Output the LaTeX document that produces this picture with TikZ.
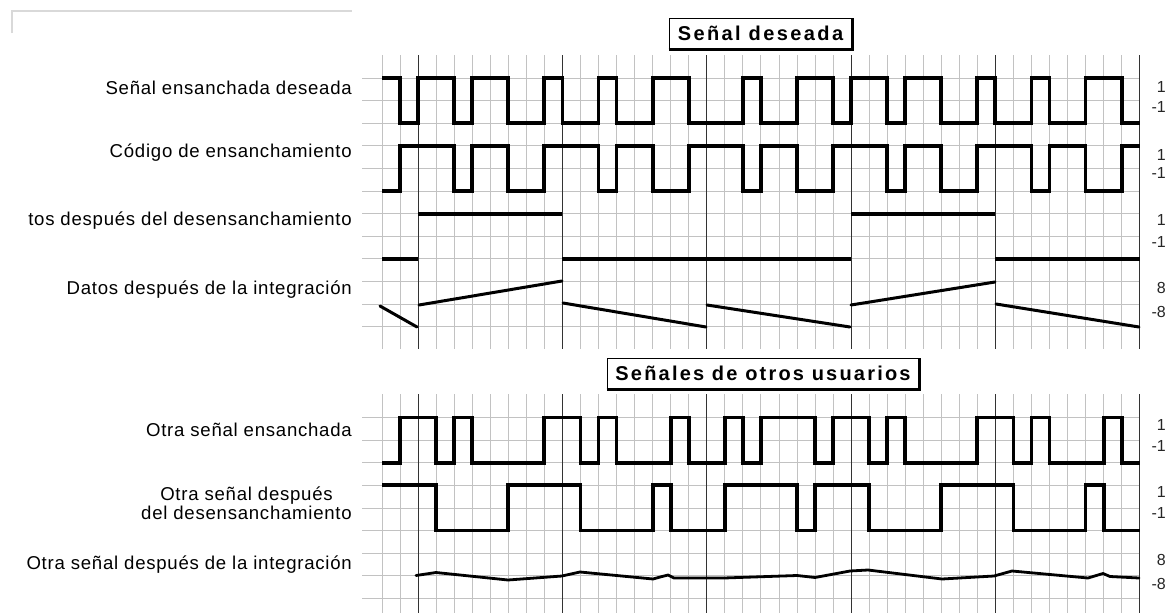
\documentclass[tikz,border=0pt]{standalone}
\usepackage{fontspec}
\setmainfont{Liberation Sans}
\newfontfamily\lblfont[LetterSpace=4]{Liberation Sans}
\newfontfamily\ttlfont[LetterSpace=12]{Liberation Sans}
\newfontfamily\ttlfontb[LetterSpace=11]{Liberation Sans}
\begin{document}
\begin{tikzpicture}[x=1pt,y=-1pt,
  minorgrid/.style={draw=black!24, line width=0.7pt},
  majorgrid/.style={draw=black!80, line width=1.1pt},
  sig/.style={draw=black, line width=3.8pt, line join=miter, line cap=butt},
  ramp/.style={draw=black, line width=3pt, line cap=round},
  lbl/.style={anchor=east, inner sep=0pt, font=\lblfont\fontsize{18.6}{22}\selectfont},
  val/.style={anchor=east, inner sep=0pt, text=black!85, font=\fontsize{16}{18}\selectfont},
  ttlbox/.style={draw=black, line width=0.9pt, inner sep=0pt, minimum height=31pt}]
\useasboundingbox (0,0) rectangle (1175,613);
\fill[white] (0,0) rectangle (1175,613);

\def\xo{382}
\def\cw{18.04}

% faint frame remnant in the upper left corner
\draw[black!15, line width=1.2pt] (12,33) -- (12,11) -- (352,11);

% ---------- grids ----------
% upper panel
\foreach \i in {0,...,42}{
  \draw[minorgrid] ({\xo+\cw*\i},55) -- ({\xo+\cw*\i},349);
}
\foreach \k in {1,...,12}{
  \draw[minorgrid] (362,{55.4+22.6*\k}) -- (1140,{55.4+22.6*\k});
}
% lower panel
\foreach \i in {0,...,42}{
  \draw[minorgrid] ({\xo+\cw*\i},394) -- ({\xo+\cw*\i},613);
}
\foreach \k in {1,...,9}{
  \draw[minorgrid] (362,{394.9+22.6*\k}) -- (1140,{394.9+22.6*\k});
}
% bit boundaries
\foreach \j in {0,...,5}{
  \draw[majorgrid] ({\xo+\cw*(2+8*\j)},55) -- ({\xo+\cw*(2+8*\j)},349);
  \draw[majorgrid] ({\xo+\cw*(2+8*\j)},394) -- ({\xo+\cw*(2+8*\j)},613);
}

% ---------- chip waveforms ----------
% #1 high level, #2 low level, #3 first level, #4 chip list (1 = high)
\newcommand\chipwave[4]{%
  \draw[sig] (\xo,{#3}) \foreach \v [count=\i from 0] in {#4} {
    -- ({\xo+\cw*\i},{#2+(#1-#2)*\v}) -- ({\xo+\cw*(\i+1)},{#2+(#1-#2)*\v}) };
}

% desired spread signal
\chipwave{78}{123}{78}{1,0,1,1,0,1,1,0,0,1,0,0,1,0,0,1,1,0,0,0,1,0,0,1,1,0,1,1,0,1,1,0,0,1,0,0,1,0,0,1,1,0}
% spreading code
\chipwave{145.8}{191}{191}{0,1,1,1,0,1,1,0,0,1,1,1,0,1,1,0,0,1,1,1,0,1,1,0,0,1,1,1,0,1,1,0,0,1,1,1,0,1,1,0,0,1}

% despread data
\draw[sig] (\xo,258.8) -- ({\xo+\cw*2},258.8);
\draw[sig] ({\xo+\cw*2},213.6) -- ({\xo+\cw*10},213.6);
\draw[sig] ({\xo+\cw*10},258.8) -- ({\xo+\cw*26},258.8);
\draw[sig] ({\xo+\cw*26},213.6) -- ({\xo+\cw*34},213.6);
\draw[sig] ({\xo+\cw*34},258.8) -- ({\xo+\cw*42},258.8);

% integrator output, reset every bit
\draw[ramp] (380,306) -- (417,327);
\draw[ramp] (419,305) -- (562,281);
\draw[ramp] (563,303) -- (706,327);
\draw[ramp] (707,305) -- (850,327);
\draw[ramp] (851,305) -- (995,282);
\draw[ramp] (996,304) -- (1139,327);

% other user's spread signal
\chipwave{417.5}{462.7}{462.7}{0,1,1,0,1,0,0,0,0,1,1,0,1,0,0,0,1,0,0,1,0,1,1,1,0,1,1,0,1,0,0,0,0,1,1,0,1,0,0,0,1,0}
% other user's signal after despreading
\chipwave{485.3}{530.5}{485.3}{1,1,1,0,0,0,0,1,1,1,1,0,0,0,0,1,0,0,0,1,1,1,1,0,1,1,1,0,0,0,0,1,1,1,1,0,0,0,0,1,0,0}
% other user's signal after integration
\draw[draw=black, line width=2.8pt, line join=round, line cap=round]
  (416,575.5) -- (436,572.5) -- (508,580) -- (562,576) -- (580,572) -- (653,579)
  -- (662,576.5) -- (668,575) -- (674,578) -- (706,578) -- (724,578) -- (797,575.5)
  -- (815,577.5) -- (850,571) -- (868,570) -- (942,579) -- (994,576) -- (1012,571)
  -- (1088,578) -- (1103,573.5) -- (1110,576.5) -- (1139,578);

% ---------- titles ----------
\node[ttlbox, minimum width=183pt] (t1) at (760.5,33.5)
  {\ttlfont\bfseries\fontsize{20}{22}\selectfont Señal deseada};
\draw[black, line width=2.2pt] (t1.south west) -- (t1.south east) -- (t1.north east);
\node[ttlbox, minimum width=312pt] (t2) at (763,373.5)
  {\ttlfontb\bfseries\fontsize{20}{22}\selectfont Señales de otros usuarios};
\draw[black, line width=2.2pt] (t2.south west) -- (t2.south east) -- (t2.north east);

% ---------- row captions ----------
\node[lbl] (l1) at (352,88) {Señal ensanchada deseada};
\node[lbl] (l2) at (352,153) {Código de ensanchamiento};
\node[lbl] (l3) at (352,221) {tos después del desensanchamiento};
\node[lbl] (l4) at (352,290) {Datos después de la integración};
\node[lbl] (l5) at (352,430) {Otra señal ensanchada};
\node[lbl, align=center] (l6) at (352,503) {Otra señal después\\[-3pt]del desensanchamiento};
\node[lbl] (l7) at (352,565) {Otra señal después de la integración};

% ---------- amplitude marks ----------
\node[val] (v1a) at (1166,87) {1};
\node[val] (v1b) at (1166,107) {-1};
\node[val] (v2a) at (1166,155) {1};
\node[val] (v2b) at (1166,173) {-1};
\node[val] (v3a) at (1166,220) {1};
\node[val] (v3b) at (1166,242) {-1};
\node[val] (v4a) at (1166,288) {8};
\node[val] (v4b) at (1166,312) {-8};
\node[val] (v5a) at (1166,425) {1};
\node[val] (v5b) at (1166,446) {-1};
\node[val] (v6a) at (1166,492) {1};
\node[val] (v6b) at (1166,513) {-1};
\node[val] (v7a) at (1166,560) {8};
\node[val] (v7b) at (1166,584) {-8};
\end{tikzpicture}
\end{document}
